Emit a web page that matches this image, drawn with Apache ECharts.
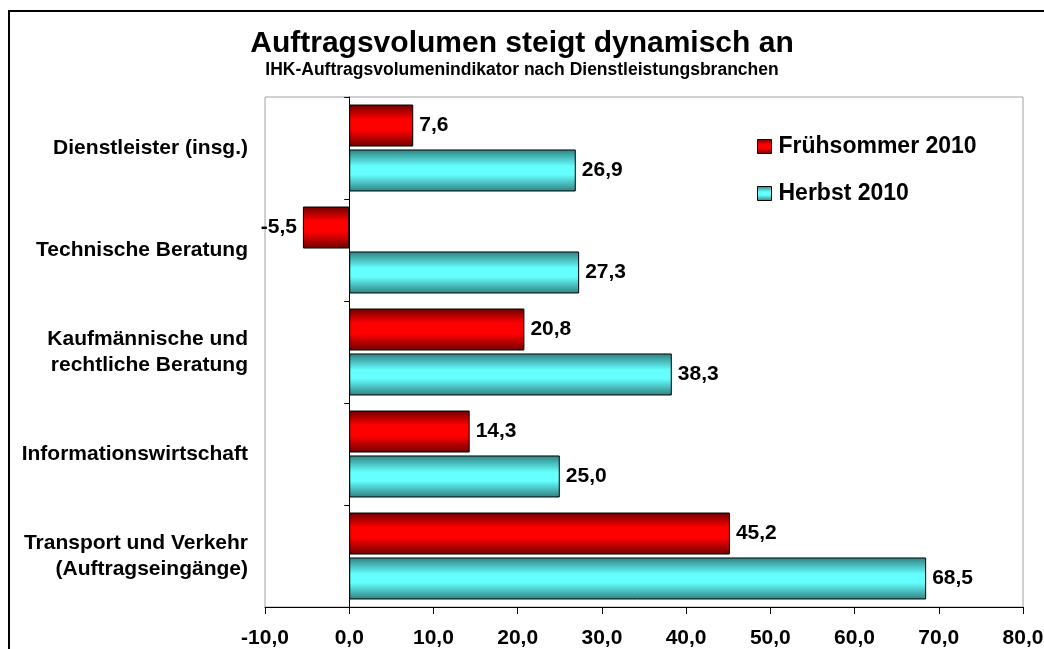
<!DOCTYPE html>
<html>
<head>
<meta charset="utf-8">
<script src="https://cdn.jsdelivr.net/npm/echarts@6/dist/echarts.min.js"></script>
<style>
  html, body { margin: 0; padding: 0; background: #fff; }
  #chart { width: 1044px; height: 649px; }
</style>
</head>
<body>
<div id="chart"></div>
<script>
// ---- data ----
const categories = [
  'Dienstleister (insg.)',
  'Technische Beratung',
  'Kaufmännische und\nrechtliche Beratung',
  'Informationswirtschaft',
  'Transport und Verkehr\n(Auftragseingänge)'
];
const fruehsommer2010 = [7.6, -5.5, 20.8, 14.3, 45.2];
const herbst2010 = [26.9, 27.3, 38.3, 25.0, 68.5];
const seriesNames = ['Frühsommer 2010', 'Herbst 2010'];
const titleText = 'Auftragsvolumen steigt dynamisch an';
const subtitleText = 'IHK-Auftragsvolumenindikator nach Dienstleistungsbranchen';
const xMin = -10, xMax = 80, xInterval = 10;

// ---- chart ----
const fmt = v => Number(v).toFixed(1).replace('.', ',');
const FONT = "'Liberation Sans', Arial, sans-serif";

const redGrad = new echarts.graphic.LinearGradient(0, 0, 0, 1, [
  { offset: 0, color: '#6e0000' },
  { offset: 0.35, color: '#ff0000' },
  { offset: 0.6, color: '#ff0000' },
  { offset: 1, color: '#6e0000' }
]);
const cyanGrad = new echarts.graphic.LinearGradient(0, 0, 0, 1, [
  { offset: 0, color: '#2f8080' },
  { offset: 0.4, color: '#66ffff' },
  { offset: 0.6, color: '#66ffff' },
  { offset: 1, color: '#2f8080' }
]);

function toData(arr) {
  return arr.map(v => ({
    value: v,
    label: { position: v < 0 ? 'left' : 'right' }
  }));
}

const labelStyle = {
  show: true,
  distance: 6,
  formatter: p => fmt(p.value),
  fontFamily: FONT,
  fontWeight: 'bold',
  fontSize: 21,
  color: '#000'
};

const chart = echarts.init(document.getElementById('chart'), null, { renderer: 'canvas' });
chart.setOption({
  animation: false,
  backgroundColor: '#fff',
  title: [
    {
      text: titleText, left: 'center', top: 24,
      textStyle: { fontFamily: FONT, fontWeight: 'bold', fontSize: 30, color: '#000' }
    },
    {
      text: subtitleText, left: 'center', top: 56,
      textStyle: { fontFamily: FONT, fontWeight: 'bold', fontSize: 17.5, color: '#000' }
    }
  ],
  graphic: [{
    type: 'rect', z: -1, silent: true,
    shape: { x: 9, y: 11, width: 1100, height: 700 },
    style: { fill: 'none', stroke: '#000', lineWidth: 2 }
  }],
  legend: {
    orient: 'vertical', left: 757, top: 135, padding: 0,
    itemWidth: 14, itemHeight: 14, itemGap: 24,
    icon: 'rect',
    data: seriesNames,
    textStyle: { fontFamily: FONT, fontWeight: 'bold', fontSize: 23, color: '#000', padding: [0, 0, 0, 2] },
    itemStyle: { borderColor: '#000', borderWidth: 1 }
  },
  grid: {
    left: 265, right: 21, top: 97, bottom: 42,
    outerBoundsMode: 'none', containLabel: false,
    show: true, borderColor: '#a0a0a0', borderWidth: 1
  },
  xAxis: {
    type: 'value', min: xMin, max: xMax, interval: xInterval,
    axisLine: { show: true, lineStyle: { color: '#000', width: 1 } },
    axisTick: { show: true, length: 7, lineStyle: { color: '#000' } },
    splitLine: { show: false },
    axisLabel: {
      formatter: v => fmt(v), margin: 21,
      fontFamily: FONT, fontWeight: 'bold', fontSize: 21, color: '#000'
    }
  },
  yAxis: {
    type: 'category', inverse: true, data: categories,
    axisLine: { show: true, onZero: true, lineStyle: { color: '#000', width: 1 } },
    axisTick: { show: true, length: 5, lineStyle: { color: '#000' } },
    axisLabel: {
      margin: 17, fontFamily: FONT, fontWeight: 'bold', fontSize: 21,
      lineHeight: 26, color: '#000', align: 'right', padding: [5, 0, 0, 0]
    }
  },
  series: [
    {
      name: seriesNames[0], type: 'bar', data: toData(fruehsommer2010),
      barWidth: 42, barGap: '7%',
      itemStyle: { color: redGrad, borderColor: '#000', borderWidth: 1 },
      label: labelStyle
    },
    {
      name: seriesNames[1], type: 'bar', data: toData(herbst2010),
      barWidth: 42, barGap: '7%',
      itemStyle: { color: cyanGrad, borderColor: '#000', borderWidth: 1 },
      label: labelStyle
    }
  ]
});
</script>
</body>
</html>
